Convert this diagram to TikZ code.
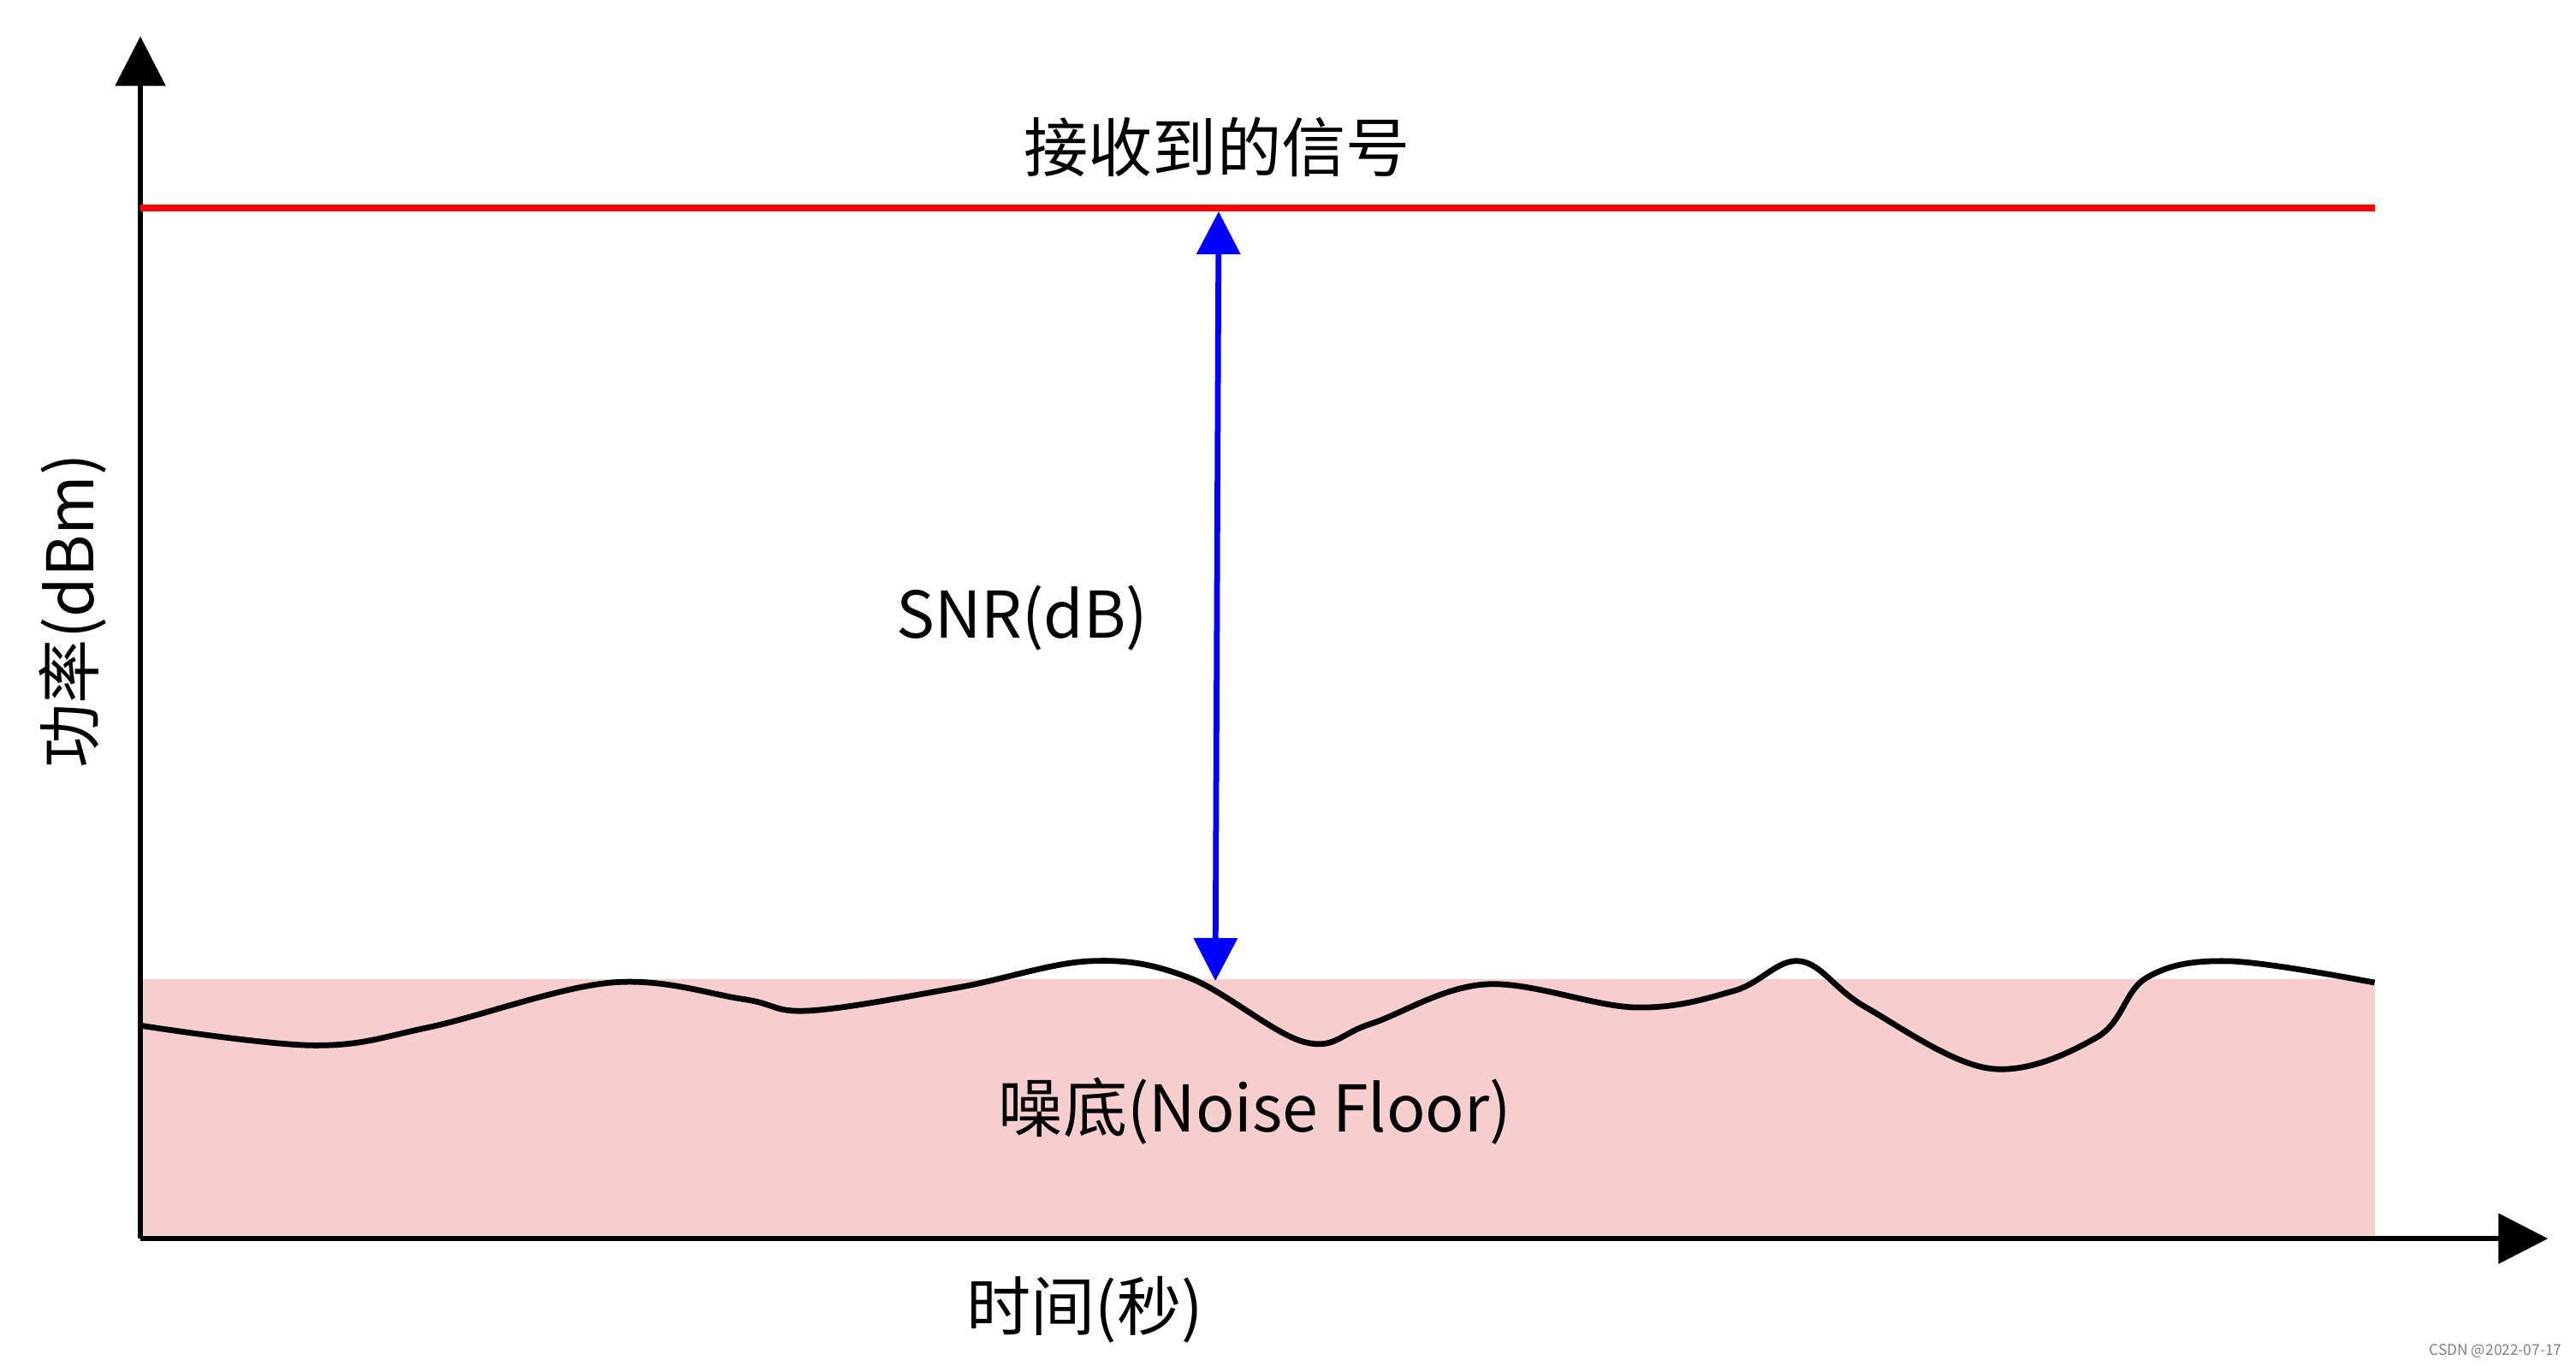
\documentclass[tikz,border=0pt]{standalone}
\usepackage{fontspec}
\setmainfont{Noto Sans CJK SC}
\usetikzlibrary{arrows.meta}
\begin{document}
\begin{tikzpicture}[x=1pt,y=-1pt,
  lbl/.style={font=\fontsize{39}{42}\selectfont, inner sep=0pt},
  axis/.style={line width=3pt,-{Triangle[length=30pt,width=30pt]}}]
\useasboundingbox (0,0) rectangle (1560,827);
\fill[fill={rgb,255:red,246;green,206;blue,205}] (85,593) rectangle (1438,748);
\coordinate (o) at (85,750);
\coordinate (yt) at (85,22);
\coordinate (xt) at (1543,750);
\draw[axis] (o) -- (yt);
\draw[axis] (o) -- (xt);
\coordinate (r1) at (85,126);
\coordinate (r2) at (1438,126);
\draw[red,line width=4pt] (r1) -- (r2);
\coordinate (a1) at (738,128);
\coordinate (a2) at (736,594);
\draw[blue,line width=3.5pt,{Triangle[length=26pt,width=26pt]}-{Triangle[length=26pt,width=26pt]}] (a1) -- (a2);
\draw[line width=3.5pt] plot[smooth,tension=0.6] coordinates {(85,621) (190,633) (260,622) (370,595) (450,605) (490,612) (580,598) (660,582) (720,592) (790,631) (830,620) (900,596) (990,610) (1050,600) (1090,582) (1130,610) (1205,647) (1270,628) (1300,592) (1350,582) (1438,595)};
\node[lbl] (t1) at (737,89) {接收到的信号};
\node[lbl] (t2) at (619,374) {SNR(dB)};
\node[lbl] (t3) at (760,673) {噪底(Noise Floor)};
\node[lbl] (t4) at (657,793) {时间(秒)};
\node[lbl,rotate=90] (t5) at (44,370) {功率(dBm)};
\node[font=\fontsize{9}{10}\selectfont,gray,anchor=east] (wm) at (1555,818) {CSDN @2022-07-17};
\end{tikzpicture}
\end{document}
